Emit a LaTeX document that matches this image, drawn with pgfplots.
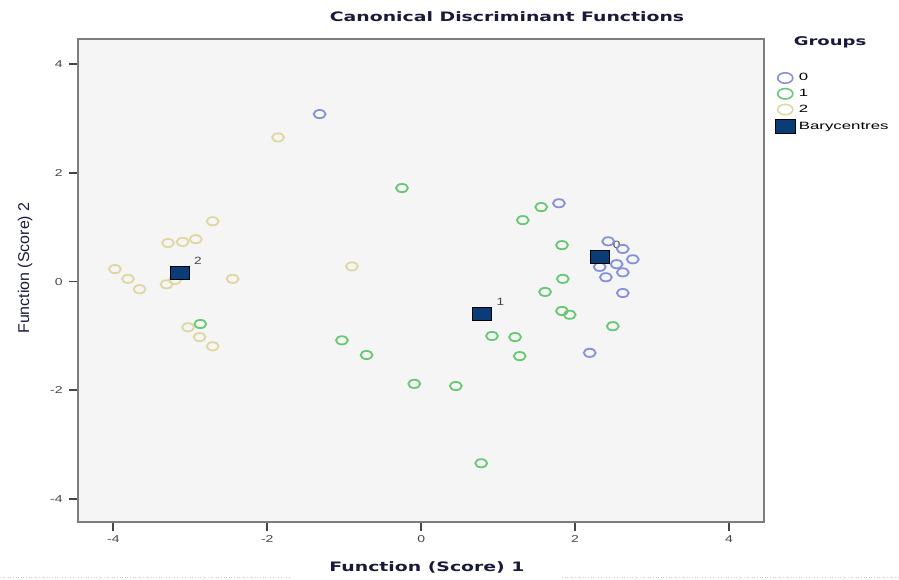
\documentclass[border=0pt]{standalone}
\usepackage{pgfplots}
\pgfplotsset{compat=1.18}
\usepackage{fontspec}
\setmainfont{Liberation Sans}
\newfontfamily\titlefont{DejaVu Sans}
\usepackage{graphicx}
\definecolor{gzero}{RGB}{135,145,215}
\definecolor{gone}{RGB}{105,200,115}
\definecolor{gtwo}{RGB}{222,216,160}
\definecolor{bary}{RGB}{10,60,120}
\definecolor{plotbg}{RGB}{245,245,245}
\definecolor{framec}{RGB}{125,125,125}
\definecolor{tickc}{RGB}{70,70,70}
\definecolor{titlec}{RGB}{25,25,60}
\begin{document}
\begin{tikzpicture}[x=1pt,y=1pt]
\useasboundingbox (0,0) rectangle (899,579);
\begin{axis}[
  at={(78pt,57pt)}, anchor=south west,
  width=686pt, height=483pt, scale only axis,
  xmin=-4.46, xmax=4.455, ymin=-4.42, ymax=4.46,
  xtick={-4,-2,0,2,4}, ytick={-4,-2,0,2,4},
  axis background/.style={fill=plotbg},
  axis line style={framec, line width=1.6pt},
  tick style={tickc, line width=1.8pt},
  tick align=outside, major tick length=9pt,
  xtick pos=bottom, ytick pos=left,
  /pgf/number format/assume math mode=true,
  tick label style={font=\fontsize{10}{12}\selectfont, text=tickc, xscale=1.4},
  xticklabel style={yshift=-1pt},
  yticklabel style={xshift=-1pt},
  clip=false,
  legend style={at={(1.014,0.935)}, anchor=north west, draw=none, fill=none,
    font=\fontsize{10.5}{11}\selectfont, row sep=3pt, inner sep=1pt,
    nodes={xscale=1.6, anchor=west}},
  legend cell align=left,
]
\addplot[only marks, mark=o, mark size=4.1pt, gzero, line width=1.8pt, mark options={xscale=1.45},
  legend image post style={mark size=5.2pt, line width=1.6pt}] coordinates {
(-1.32,3.08) (1.79,1.44) (2.43,0.74) (2.62,0.60) (2.75,0.41) (2.54,0.32)
(2.32,0.27) (2.62,0.17) (2.40,0.08) (2.62,-0.21) (2.19,-1.31)
};
\addlegendentry{0}
\addplot[only marks, mark=o, mark size=4.1pt, gone, line width=1.8pt, mark options={xscale=1.45},
  legend image post style={mark size=5.2pt, line width=1.6pt}] coordinates {
(-0.25,1.72) (1.56,1.37) (1.32,1.13) (1.83,0.67) (1.84,0.05) (1.61,-0.19)
(1.83,-0.54) (1.93,-0.61) (2.49,-0.82) (0.92,-1.00) (1.22,-1.02) (1.28,-1.37)
(-1.03,-1.08) (-0.71,-1.35) (-0.09,-1.88) (0.45,-1.92) (0.78,-3.34) (-2.87,-0.78)
};
\addlegendentry{1}
\addplot[only marks, mark=o, mark size=4.1pt, gtwo, line width=1.8pt, mark options={xscale=1.45},
  legend image post style={mark size=5.2pt, line width=1.6pt}] coordinates {
(-1.86,2.65) (-2.71,1.11) (-3.29,0.71) (-3.10,0.73) (-2.93,0.78)
(-3.98,0.23) (-3.81,0.05) (-3.66,-0.14) (-3.31,-0.05) (-3.20,0.03)
(-2.45,0.05) (-0.90,0.28) (-3.03,-0.84) (-2.88,-1.02) (-2.71,-1.19)
};
\addlegendentry{2}
\addplot[only marks, mark=square*, mark size=6.5pt, mark options={fill=bary, draw=black, line width=0.6pt, xscale=1.45},
  legend image post style={mark size=7.2pt}] coordinates {
(2.32,0.45) (0.79,-0.60) (-3.14,0.17)
};
\addlegendentry{Barycentres}
\node[font=\fontsize{10.5}{12}\selectfont, text=tickc, xscale=1.3] at (axis cs:2.54,0.67) {0};
\node[font=\fontsize{10.5}{12}\selectfont, text=tickc, xscale=1.3] at (axis cs:1.03,-0.38) {1};
\node[font=\fontsize{10.5}{12}\selectfont, text=tickc, xscale=1.3] at (axis cs:-2.90,0.39) {2};
\end{axis}
\node[text=titlec] at (507,562) {\scalebox{1.45}[1]{\titlefont\bfseries\fontsize{13}{15}\selectfont Canonical Discriminant Functions}};
\node[text=titlec] at (830,537) {\scalebox{1.5}[1]{\titlefont\bfseries\fontsize{12}{14}\selectfont Groups}};
\node[text=titlec] at (427,12) {\scalebox{1.45}[1]{\titlefont\bfseries\fontsize{13}{15}\selectfont Function (Score) 1}};
\node[text=titlec, rotate=90] at (25,311) {\scalebox{1.33}[1.3]{\fontsize{12}{14}\selectfont Function (Score) 2}};
\draw[gray!40, line width=0.6pt, dotted] (0,2) -- (289,2);
\draw[gray!40, line width=0.6pt, dotted] (562,2) -- (899,2);
\end{tikzpicture}
\end{document}
